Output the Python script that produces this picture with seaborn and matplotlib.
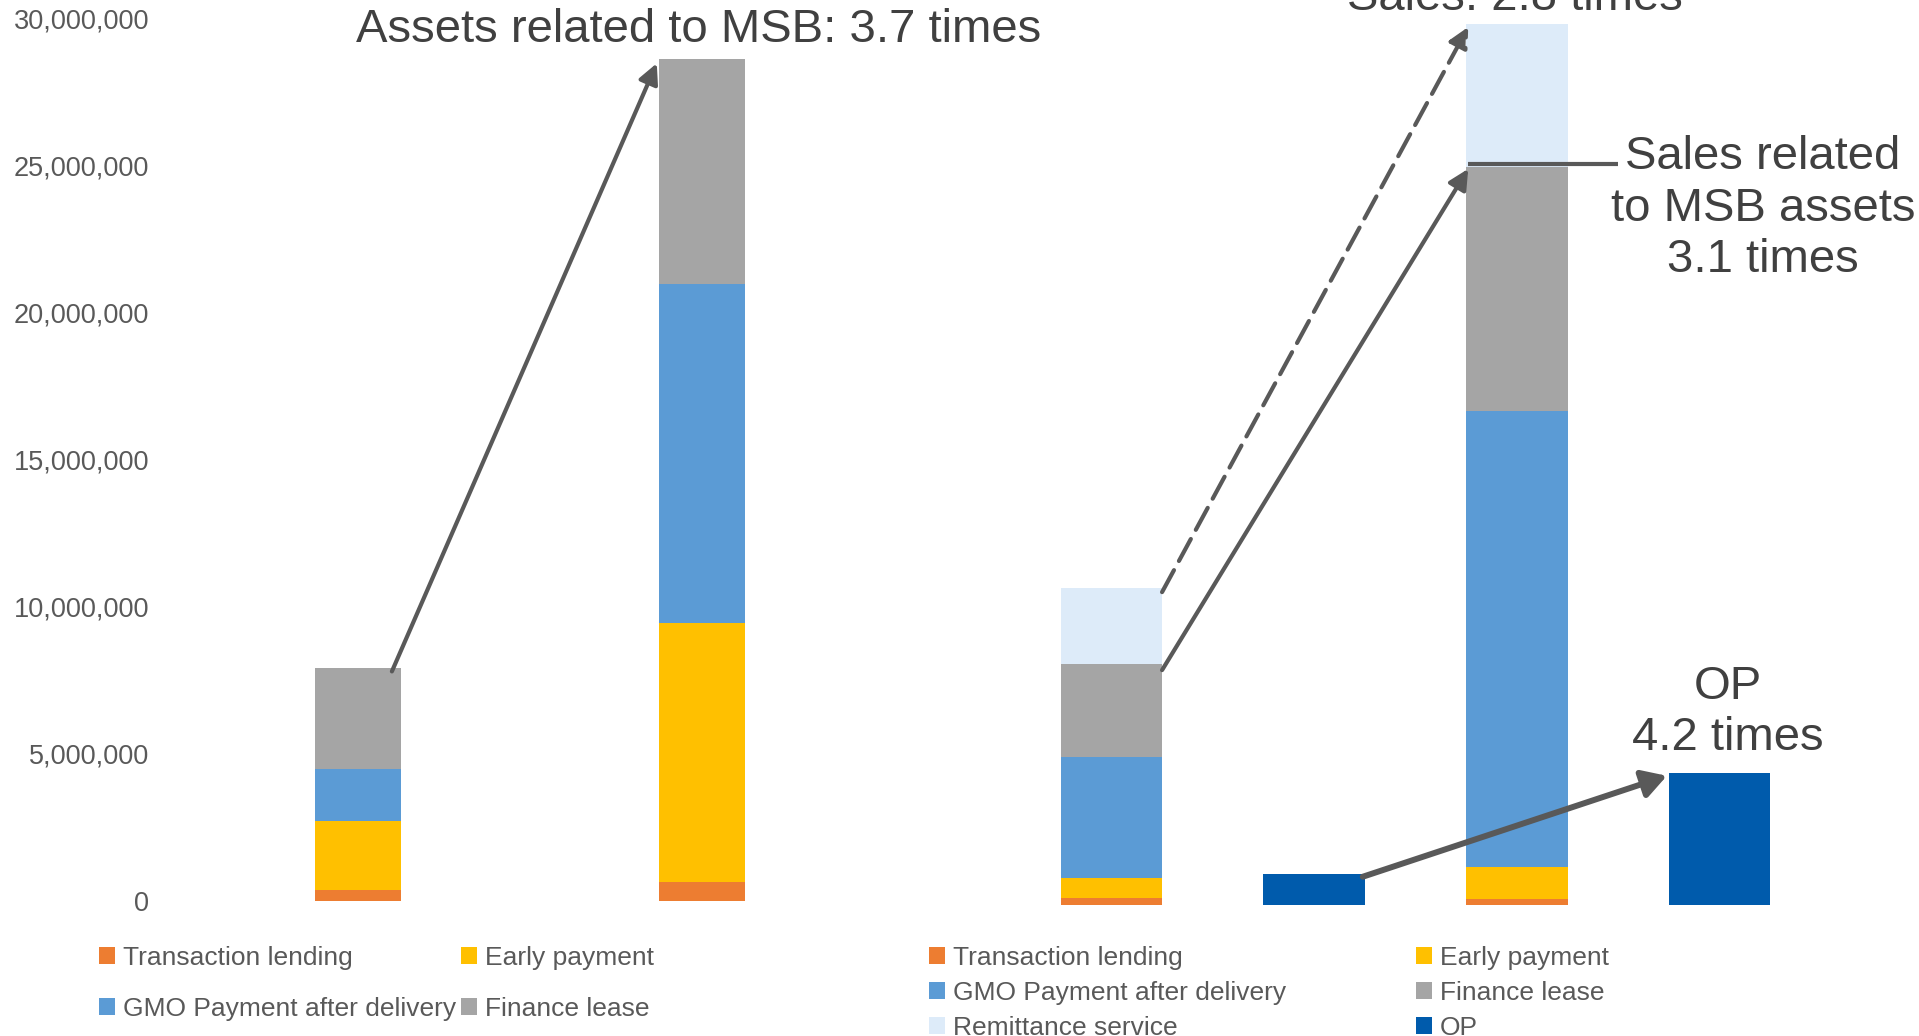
import numpy as np
import matplotlib
matplotlib.use("Agg")
import matplotlib.pyplot as plt
import seaborn as sns
from matplotlib.patches import Patch
from matplotlib.ticker import FuncFormatter

# ---------------- data ----------------
# MSB-related assets, before / after
asset_slots = ["before", "after"]
asset_transaction_lending = [370_000, 660_000]
asset_early_payment = [2_350_000, 8_800_000]
asset_gmo_after_delivery = [1_750_000, 11_500_000]
asset_finance_lease = [3_430_000, 7_650_000]

# Sales by service and operating profit, before / after
sales_slots = ["sales_before", "op_before", "sales_after", "op_after"]
sales_transaction_lending = [230_000, 0, 200_000, 0]
sales_early_payment = [680_000, 0, 1_090_000, 0]
sales_gmo_after_delivery = [4_130_000, 0, 15_490_000, 0]
sales_finance_lease = [3_140_000, 0, 8_280_000, 0]
sales_remittance = [2_600_000, 0, 4_870_000, 0]
operating_profit = [0, 1_060_000, 0, 4_490_000]

y_ticks = [0, 5_000_000, 10_000_000, 15_000_000, 20_000_000, 25_000_000, 30_000_000]

label_lending = "Transaction lending"
label_early = "Early payment"
label_gmo = "GMO Payment after delivery"
label_lease = "Finance lease"
label_remit = "Remittance service"
label_op = "OP"

title_assets = "Assets related to MSB: 3.7 times"
title_sales = "Sales: 2.8 times"
title_msb_sales = "Sales related\nto MSB assets\n3.1 times"
title_op = "OP\n4.2 times"

# ---------------- style ----------------
C_LENDING = "#ED7D31"
C_EARLY = "#FFC000"
C_GMO = "#5B9BD5"
C_LEASE = "#A5A5A5"
C_REMIT = "#DDEBF9"
C_OP = "#005BAC"
C_ARROW = "#595959"
C_TEXT = "#404040"
C_TICK = "#595959"

sns.set_style("white")
TEXT_FONT = ["Liberation Sans", "DejaVu Sans"]
plt.rcParams["font.family"] = TEXT_FONT

W, H = 1919, 1036
fig = plt.figure(figsize=(W / 100, H / 100), dpi=100)


def fx(px):
    return px / W


def fy(py):
    return 1 - py / H


ax_l = fig.add_axes([fx(185.5), fy(901), 688 / W, 883 / H])
ax_r = fig.add_axes([fx(1010), fy(905), 811 / W, 883 / H])


def stacked_bars(ax, slots, layers, colors, width):
    """Draw stacked bars by overlaying cumulative totals, top layer first."""
    cum = np.cumsum(np.array(layers, dtype=float), axis=0)
    for level in range(len(layers) - 1, -1, -1):
        sns.barplot(x=slots, y=cum[level], order=slots, color=colors[level],
                    width=width, saturation=1, errorbar=None, linewidth=0, ax=ax)
    return cum


# ---------------- left: assets ----------------
asset_cum = stacked_bars(
    ax_l, asset_slots,
    [asset_transaction_lending, asset_early_payment, asset_gmo_after_delivery, asset_finance_lease],
    [C_LENDING, C_EARLY, C_GMO, C_LEASE], width=0.25)

ax_l.set_xlim(-0.5, 1.5)
ax_l.set_ylim(0, 30_000_000)
ax_l.set_yticks(y_ticks)
ax_l.yaxis.set_major_formatter(FuncFormatter(lambda v, _: f"{int(v):,}"))
ax_l.set_xticks([])
ax_l.tick_params(axis="y", length=0, pad=26, labelsize=19.5, labelcolor=C_TICK)

# ---------------- right: sales & OP ----------------
sales_cum = stacked_bars(
    ax_r, sales_slots,
    [sales_transaction_lending, sales_early_payment, sales_gmo_after_delivery,
     sales_finance_lease, sales_remittance],
    [C_LENDING, C_EARLY, C_GMO, C_LEASE, C_REMIT], width=0.5)
sns.barplot(x=sales_slots, y=operating_profit, order=sales_slots, color=C_OP,
            width=0.5, saturation=1, errorbar=None, linewidth=0, ax=ax_r)

ax_r.set_xlim(-0.5, 3.5)
ax_r.set_ylim(0, 30_000_000)
ax_r.set_xticks([])
ax_r.set_yticks([])

for ax in (ax_l, ax_r):
    ax.set_xlabel("")
    ax.set_ylabel("")
    ax.patch.set_alpha(0)
    for sp in ax.spines.values():
        sp.set_visible(False)

# ---------------- growth arrows ----------------
head = "-|>,head_length=0.6,head_width=0.3"

ax_l.annotate("", xy=(1 - 0.13, asset_cum[-1][1] - 150_000),
              xytext=(0.1, asset_cum[-1][0] - 100_000),
              arrowprops=dict(arrowstyle=head, color=C_ARROW, lw=3, mutation_scale=20,
                              shrinkA=0, shrinkB=0),
              annotation_clip=False)

# total sales (dashed)
ax_r.annotate("", xy=(1.76, sales_cum[-1][2] - 100_000),
              xytext=(0.25, sales_cum[-1][0] - 150_000),
              arrowprops=dict(arrowstyle=head, color=C_ARROW, lw=3, mutation_scale=20,
                              linestyle=(0, (6, 2.5)), shrinkA=0, shrinkB=0),
              annotation_clip=False)

# sales related to MSB assets (solid)
ax_r.annotate("", xy=(1.76, sales_cum[3][2] - 50_000),
              xytext=(0.25, sales_cum[3][0] - 200_000),
              arrowprops=dict(arrowstyle=head, color=C_ARROW, lw=3, mutation_scale=20,
                              shrinkA=0, shrinkB=0),
              annotation_clip=False)
ax_r.plot([1.76, 2.5], [sales_cum[3][2] + 120_000] * 2, color=C_ARROW, lw=3,
          solid_capstyle="butt", clip_on=False)

# operating profit
ax_r.annotate("", xy=(2.74, operating_profit[3] - 100_000),
              xytext=(1.24, operating_profit[1] - 100_000),
              arrowprops=dict(arrowstyle="-|>,head_length=0.6,head_width=0.35", color=C_ARROW,
                              lw=4.3, mutation_scale=24, shrinkA=0, shrinkB=0),
              annotation_clip=False)

# ---------------- headline texts ----------------
# multi-line texts: y is the baseline of the last line
fig.text(fx(699), fy(42), title_assets, ha="center", va="baseline", fontsize=34, color=C_TEXT)
fig.text(fx(1515), fy(10), title_sales, ha="center", va="baseline", fontsize=34, color=C_TEXT)
fig.text(fx(1763), fy(272), title_msb_sales, ha="center", va="baseline", fontsize=34,
         color=C_TEXT, linespacing=1.22, multialignment="center")
fig.text(fx(1728), fy(750), title_op, ha="center", va="baseline", fontsize=34,
         color=C_TEXT, linespacing=1.22, multialignment="center")

# ---------------- legends ----------------
def patches(labels, colors):
    return [Patch(facecolor=c, edgecolor="none", label=l) for l, c in zip(labels, colors)]


legend_kw = dict(loc="upper left", frameon=False, prop={"family": TEXT_FONT, "size": 19},
                 handlelength=0.6, handleheight=0.6, handletextpad=0.3,
                 borderpad=0, borderaxespad=0, labelcolor=C_TICK)

fig.legend(handles=patches([label_lending, label_gmo, label_early, label_lease],
                           [C_LENDING, C_GMO, C_EARLY, C_LEASE]),
           bbox_to_anchor=(fx(99), fy(946)), ncol=2, columnspacing=0.2,
           labelspacing=1.03, **legend_kw)

fig.legend(handles=patches([label_lending, label_gmo, label_remit, label_early, label_lease, label_op],
                           [C_LENDING, C_GMO, C_REMIT, C_EARLY, C_LEASE, C_OP]),
           bbox_to_anchor=(fx(929), fy(946)), ncol=2, columnspacing=4.93,
           labelspacing=0.41, **legend_kw)

fig.savefig("out.png", dpi=100)
